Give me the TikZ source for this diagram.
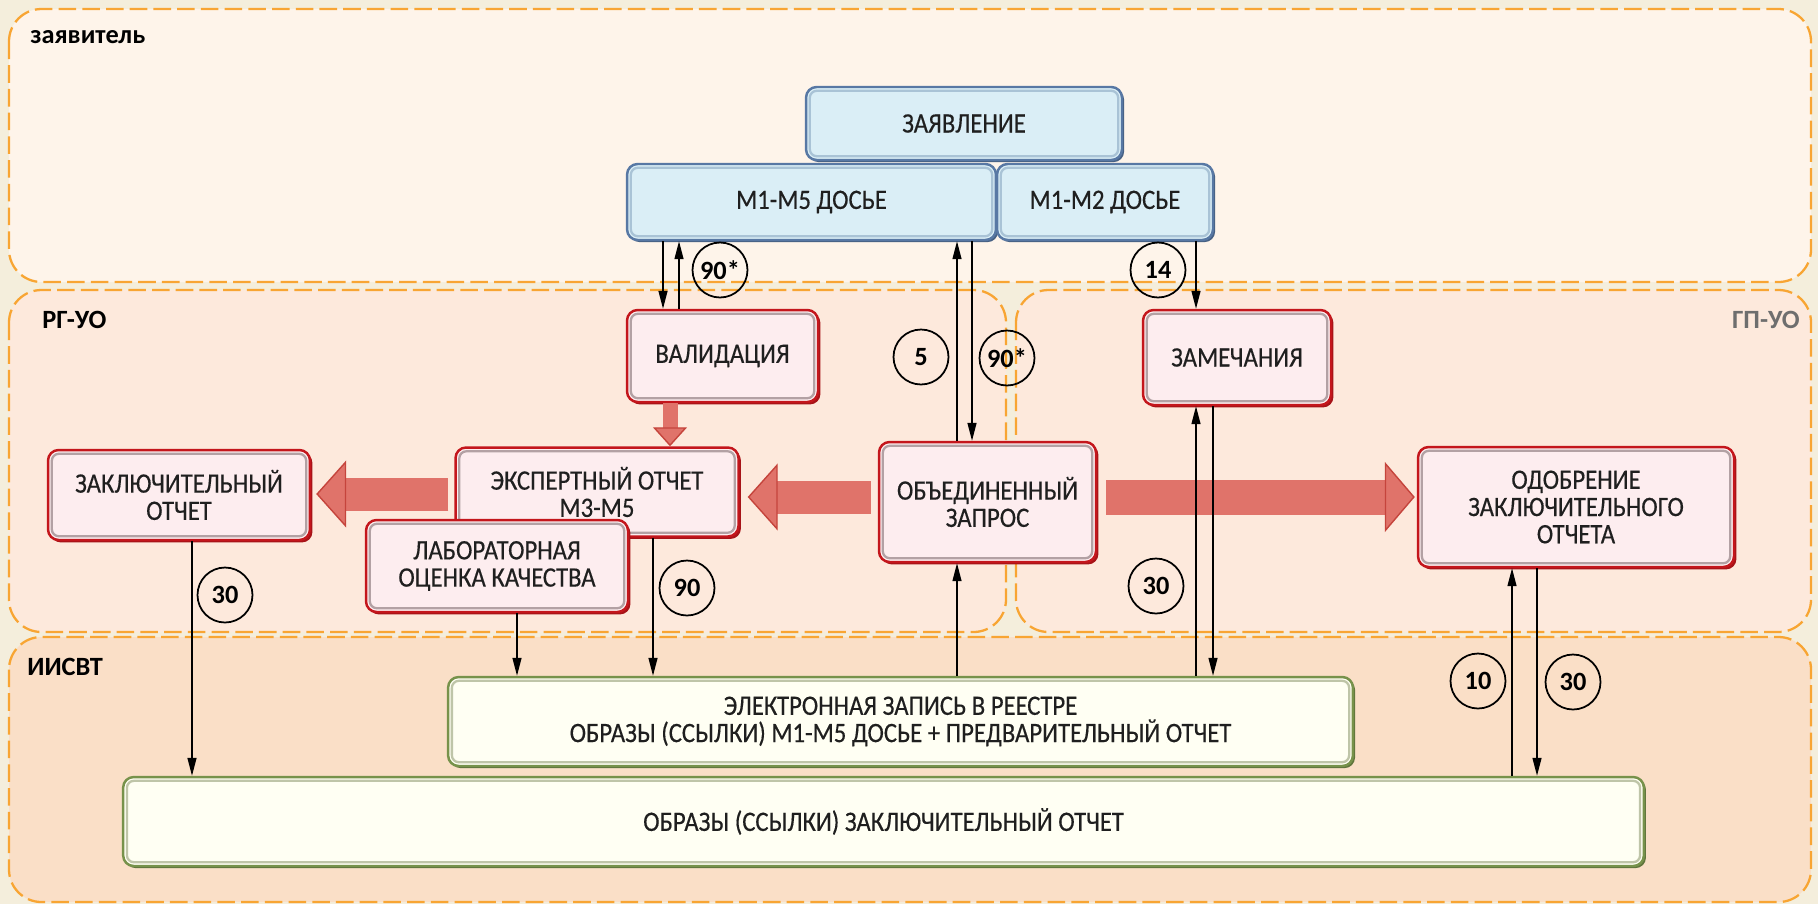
\documentclass[tikz,border=0pt]{standalone}
\usepackage{fontspec}
\setmainfont{Carlito}
\newfontfamily\narrowfont{Carlito}[FakeStretch=0.88, FakeBold=0.4]
\usetikzlibrary{arrows.meta, shadows}

\definecolor{pagebg}{HTML}{F4EEDC}
\definecolor{lanetop}{HTML}{FEF4EA}
\definecolor{lanemid}{HTML}{FDE9DC}
\definecolor{lanebot}{HTML}{FADFC7}
\definecolor{laneline}{HTML}{F8A533}
\definecolor{gpgray}{HTML}{6E6E6E}
\definecolor{textdark}{HTML}{1F1F1F}
\definecolor{blueline}{HTML}{5878A4}
\definecolor{bluefill}{HTML}{DAEEF6}
\definecolor{bluebevel}{HTML}{A9C3D6}
\definecolor{redline}{HTML}{C4161C}
\definecolor{redfill}{HTML}{FDEDEF}
\definecolor{redbevel}{HTML}{B3A1A4}
\definecolor{greenline}{HTML}{77924B}
\definecolor{greenfill}{HTML}{FFFFF3}
\definecolor{greenbevel}{HTML}{BFC5A8}
\definecolor{blockred}{HTML}{E0736A}
\definecolor{blockedge}{HTML}{C5443C}

\tikzset{
  lane/.style={draw=laneline, line width=1.3pt, dash pattern=on 10pt off 3.5pt,
    rounded corners=0.65cm},
  lanelbl/.style={anchor=west, inner sep=0pt, font=\bfseries\fontsize{15}{15}\selectfont},
  box/.style={rounded corners=6pt, line width=1.4pt, align=center, inner sep=2pt,
    text=textdark, font=\narrowfont\fontsize{16}{15.5}\selectfont},
  bluebox/.style={box, draw=blueline, fill=bluefill,
    drop shadow={shadow xshift=1.2pt, shadow yshift=-1.2pt, fill=blueline!80!black, opacity=1}},
  redbox/.style={box, draw=redline, fill=redfill,
    drop shadow={shadow xshift=1.4pt, shadow yshift=-1.4pt, fill=redline!85!black, opacity=1}},
  greenbox/.style={box, draw=greenline, fill=greenfill,
    drop shadow={shadow xshift=1.2pt, shadow yshift=-1.2pt, fill=greenline!80!black, opacity=1}},
  bevel/.style={line width=1.3pt, rounded corners=4pt},
  num/.style={circle, draw, line width=1pt, minimum size=1.1cm, inner sep=0pt,
    font=\bfseries\fontsize{15}{15}\selectfont},
  flow/.style={-{Triangle[length=3.6mm, width=1.8mm]}, line width=0.8pt},
  bigflow/.style n args={3}{draw=blockred, line width=#1,
    -{Triangle[length=#2, width=#3, color=blockedge, fill=blockred, line width=0.8pt 0 0]}}
}

\begin{document}
\begin{tikzpicture}[x=0.02cm, y=-0.02cm]
  % background and page size
  \fill[pagebg] (0,0) rectangle (1818,904);
  \useasboundingbox (0,0) rectangle (1818,904);

  % swimlanes
  \draw[lane, fill=lanetop] (9,9) rectangle (1811,282);
  \draw[lane, fill=lanemid] (9,290) rectangle (1006,632);
  \draw[lane, fill=lanemid] (1016,290) rectangle (1811,632);
  \draw[lane, fill=lanebot] (9,637) rectangle (1811,902);

  \node[lanelbl] (lzav) at (30,37) {заявитель};
  \node[lanelbl] (lrg) at (42,320) {РГ-УО};
  \node[lanelbl] (liis) at (27,667) {ИИСВТ};
  \node[lanelbl, anchor=east, text=gpgray] (lgp) at (1800,320) {ГП-УО};

  % boxes
  \node[bluebox, minimum width=6.32cm, minimum height=1.46cm] (zayav) at (964,123.5) {ЗАЯВЛЕНИЕ};
  \node[bluebox, minimum width=7.38cm, minimum height=1.52cm] (d15) at (811.5,202) {М1-М5 ДОСЬЕ};
  \node[bluebox, minimum width=4.32cm, minimum height=1.52cm] (d12) at (1105,202) {М1-М2 ДОСЬЕ};
  \node[redbox, minimum width=3.82cm, minimum height=1.84cm] (valid) at (722.5,356) {ВАЛИДАЦИЯ};
  \node[redbox, minimum width=3.76cm, minimum height=1.90cm] (zamech) at (1237,357.5) {ЗАМЕЧАНИЯ};
  \node[redbox, minimum width=5.24cm, minimum height=1.80cm] (zakl) at (179,495) {ЗАКЛЮЧИТЕЛЬНЫЙ\\ОТЧЕТ};
  \node[redbox, minimum width=5.66cm, minimum height=1.78cm] (expert) at (597,492) {ЭКСПЕРТНЫЙ ОТЧЕТ\\М3-М5};
  \node[redbox, minimum width=4.34cm, minimum height=2.40cm] (obj) at (987.5,502) {ОБЪЕДИНЕННЫЙ\\ЗАПРОС};
  \node[redbox, minimum width=6.32cm, minimum height=2.40cm] (odobr) at (1576,507) {ОДОБРЕНИЕ\\ЗАКЛЮЧИТЕЛЬНОГО\\ОТЧЕТА};
  \node[greenbox, minimum width=18.10cm, minimum height=1.78cm] (elec) at (900.5,721.5) {ЭЛЕКТРОННАЯ ЗАПИСЬ В РЕЕСТРЕ\\ОБРАЗЫ (ССЫЛКИ) М1-М5 ДОСЬЕ + ПРЕДВАРИТЕЛЬНЫЙ ОТЧЕТ};
  \node[greenbox, minimum width=30.42cm, minimum height=1.78cm] (obraz) at (883.5,821.5) {ОБРАЗЫ (ССЫЛКИ) ЗАКЛЮЧИТЕЛЬНЫЙ ОТЧЕТ};

  % inner bevel frames
  \foreach \b/\c in {zayav/bluebevel, d15/bluebevel, d12/bluebevel, valid/redbevel,
      zamech/redbevel, zakl/redbevel, expert/redbevel, obj/redbevel, odobr/redbevel,
      elec/greenbevel, obraz/greenbevel}
    \draw[bevel, \c] ([shift={(5,5)}]\b.north west) rectangle ([shift={(-5,-5)}]\b.south east);

  \node[redbox, minimum width=5.24cm, minimum height=1.84cm] (lab) at (497,566) {ЛАБОРАТОРНАЯ\\ОЦЕНКА КАЧЕСТВА};
  \draw[bevel, redbevel] ([shift={(5,5)}]lab.north west) rectangle ([shift={(-5,-5)}]lab.south east);

  % big red arrows
  \draw[bigflow={0.3cm}{0.38cm}{0.68cm}] (valid.south -| 670,0) -- (expert.north -| 670,0);
  \draw[bigflow={0.66cm}{0.6cm}{1.34cm}, shorten <=0.14cm, shorten >=0.16cm] (obj.west |- 0,497) -- (expert.east |- 0,497);
  \draw[bigflow={0.66cm}{0.6cm}{1.34cm}, shorten <=0.12cm, shorten >=0.1cm] (expert.west |- 0,494) -- (zakl.east |- 0,494);
  \draw[bigflow={0.7cm}{0.6cm}{1.4cm}, shorten <=0.18cm, shorten >=0.04cm] (obj.east |- 0,497) -- (odobr.west |- 0,497);

  % thin connectors
  \draw[flow] (d15.south -| 663,0) -- (valid.north -| 663,0);
  \draw[flow] (valid.north -| 679,0) -- (d15.south -| 679,0);
  \draw[flow] (obj.north -| 957,0) -- (d15.south -| 957,0);
  \draw[flow] (d15.south -| 972,0) -- (obj.north -| 972,0);
  \draw[flow] (d12.south -| 1196,0) -- (zamech.north -| 1196,0);
  \draw[flow] (elec.north -| 1196,0) -- (zamech.south -| 1196,0);
  \draw[flow] (zamech.south -| 1213,0) -- (elec.north -| 1213,0);
  \draw[flow] (zakl.south -| 192,0) -- (obraz.north -| 192,0);
  \draw[flow] (lab.south -| 517,0) -- (elec.north -| 517,0);
  \draw[flow] (expert.south -| 653,0) -- (elec.north -| 653,0);
  \draw[flow] (elec.north -| 957,0) -- (obj.south -| 957,0);
  \draw[flow] (obraz.north -| 1512,0) -- (odobr.south -| 1512,0);
  \draw[flow] (odobr.south -| 1537,0) -- (obraz.north -| 1537,0);

  % day counts
  \node[num] (c90v) at (720,270) {90*};
  \node[num] (c5) at (921,357) {5};
  \node[num] (c90o) at (1007,358) {90*};
  \node[num] (c14) at (1158,270) {14};
  \node[num] (c30z) at (225,595) {30};
  \node[num] (c90e) at (687,588) {90};
  \node[num] (c30m) at (1156,586) {30};
  \node[num] (c10) at (1478,681) {10};
  \node[num] (c30o) at (1573,682) {30};
\end{tikzpicture}
\end{document}
